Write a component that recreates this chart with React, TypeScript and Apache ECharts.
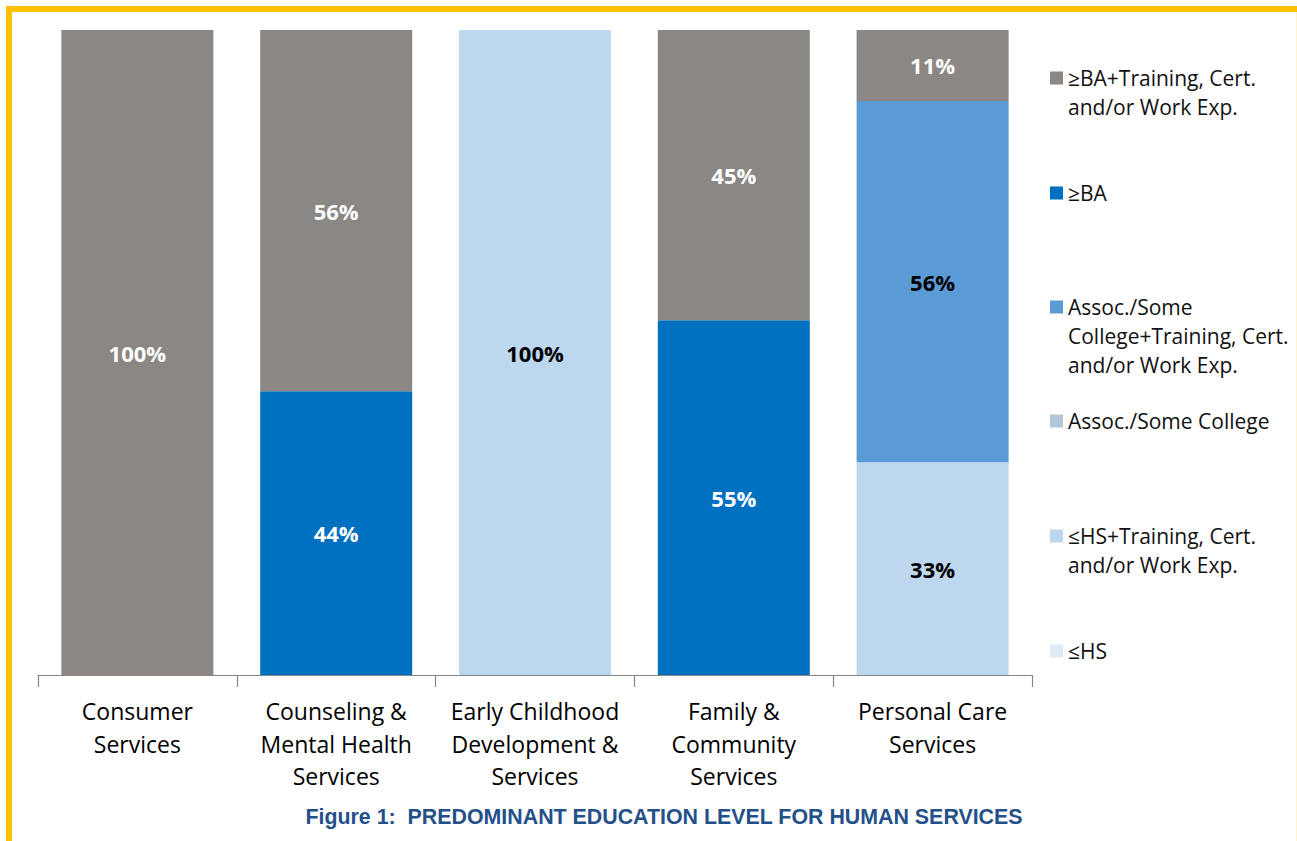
import React, { useEffect, useRef } from "react";
import * as echarts from "echarts";

const categories = [
  "Consumer\nServices",
  "Counseling &\nMental Health\nServices",
  "Early Childhood\nDevelopment &\nServices",
  "Family &\nCommunity\nServices",
  "Personal Care\nServices",
];

// stacked bottom -> top
const seriesNames = [
  "≤HS",
  "≤HS+Training, Cert. and/or Work Exp.",
  "Assoc./Some College",
  "Assoc./Some College+Training, Cert. and/or Work Exp.",
  "≥BA",
  "≥BA+Training, Cert. and/or Work Exp.",
];
const legendLines = [
  ["≤HS"],
  ["≤HS+Training, Cert.", "and/or Work Exp."],
  ["Assoc./Some College"],
  ["Assoc./Some", "College+Training, Cert.", "and/or Work Exp."],
  ["≥BA"],
  ["≥BA+Training, Cert.", "and/or Work Exp."],
];
const hsValues = [null, null, null, null, null];
const hsTrainingValues = [null, null, 100, null, 33];
const assocValues = [null, null, null, null, null];
const assocTrainingValues = [null, null, null, null, 56];
const baValues = [null, 44, null, 55, null];
const baTrainingValues = [100, 56, null, 45, 11];

const seriesValues = [hsValues, hsTrainingValues, assocValues, assocTrainingValues, baValues, baTrainingValues];
const colors = ["#DDEBF7", "#BDD7EE", "#B4C7D7", "#5B9BD5", "#0070C0", "#8B8784"];
const labelColors = ["#000", "#000", "#000", "#000", "#fff", "#fff"];
// legend first-line centre y, listed from the top of the legend
const legendCentres = [651, 536, 421, 307, 193, 78];

const titleText = "Figure 1:  PREDOMINANT EDUCATION LEVEL FOR HUMAN SERVICES";

export default function App() {
  const ref = useRef<HTMLDivElement>(null);
  useEffect(() => {
    document.body.style.margin = "0";
    const chart = echarts.init(ref.current!, null, { renderer: "svg" });
    const lineH = 29;
    const legends = seriesNames.map((name, i) => {
      const lines = legendLines[i];
      const pad = lines.length - 1;
      const text = Array(pad).fill("").concat(lines).join("\n");
      const total = (lines.length + pad) * lineH;
      return {
        data: [name],
        orient: "vertical",
        left: 1050,
        top: legendCentres[i] - total / 2,
        padding: 0,
        itemWidth: 13,
        itemHeight: 13,
        icon: "rect",
        selectedMode: false,
        formatter: () => text,
        textStyle: {
          fontFamily: "Open Sans",
          fontSize: 21,
          lineHeight: lineH,
          color: "#111",
        },
      };
    });
    chart.setOption({
      animation: false,
      backgroundColor: "#fff",
      grid: { left: 38, right: 265, top: 30, bottom: 166, containLabel: false },
      legend: legends,
      xAxis: {
        type: "category",
        data: categories,
        axisLine: { lineStyle: { color: "#868686", width: 1.2 } },
        axisTick: { show: true, length: 12, lineStyle: { color: "#868686", width: 1.2 } },
        axisLabel: {
          fontFamily: "Open Sans",
          fontSize: 23,
          lineHeight: 32.5,
          color: "#000",
          margin: 20,
          interval: 0,
        },
      },
      yAxis: { type: "value", min: 0, max: 100, show: false },
      series: seriesNames.map((name, i) => ({
        name,
        type: "bar",
        stack: "total",
        barWidth: 152,
        data: seriesValues[i],
        itemStyle: { color: colors[i] },
        label: {
          show: true,
          position: "inside",
          fontFamily: "Open Sans",
          fontWeight: "bold",
          fontSize: 22,
          color: labelColors[i],
          formatter: (p: any) => (p.value ? p.value + "%" : ""),
        },
      })),
      graphic: [
        { type: "rect", shape: { x: 6, y: 6, width: 1291, height: 6 }, style: { fill: "#FFC000" } },
        { type: "rect", shape: { x: 6, y: 6, width: 6, height: 835 }, style: { fill: "#FFC000" } },
        { type: "rect", shape: { x: 1296, y: 12, width: 1, height: 829 }, style: { fill: "#FFF2CC" } },
        {
          type: "text",
          x: 664,
          y: 816,
          scaleX: 0.93,
          style: {
            text: titleText,
            align: "center",
            verticalAlign: "middle",
            fontFamily: "'Liberation Sans Narrow', 'Arial Narrow', 'Liberation Sans', sans-serif",
            fontWeight: "bold",
            fontSize: 23,
            fill: "#24508A",
          },
        },
      ],
    });
    return () => chart.dispose();
  }, []);
  return <div ref={ref} style={{ width: 1297, height: 841 }} />;
}
